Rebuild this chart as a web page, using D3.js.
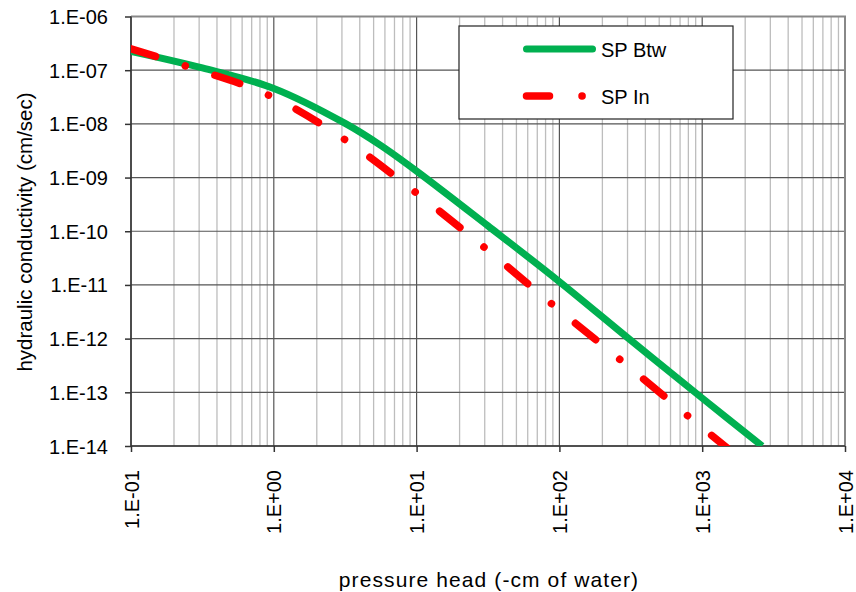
<!DOCTYPE html>
<html>
<head>
<meta charset="utf-8">
<script src="https://cdn.jsdelivr.net/npm/d3@7"></script>
<style>
  body { margin: 0; background: #fff; }
  text { font-family: Arial, "Liberation Sans", sans-serif; fill: #000; }
</style>
</head>
<body>
<div id="chart-area"></div>
<script>

// data
let xTicks = [0.1, 1, 10, 100, 1000, 10000]
let yTicks = [1e-6, 1e-7, 1e-8, 1e-9, 1e-10, 1e-11, 1e-12, 1e-13, 1e-14]

// SP Btw (green solid)
let btwHead = [0.1, 0.316, 1, 3.16, 5.6, 10, 31.6, 100, 316, 1000, 2630]
let btwK = [2.24e-7, 1.10e-7, 4.57e-8, 1.02e-8, 3.98e-9, 1.32e-9, 1.26e-10, 1.15e-11, 9.3e-13, 7.8e-14, 1.0e-14]

// SP In (red long dash dot)
let inHead = [0.1, 0.234, 0.912, 3.09, 9.77, 29.5, 87.1, 263, 794, 2000]
let inK = [2.51e-7, 1.23e-7, 3.47e-8, 5.25e-9, 5.37e-10, 5.13e-11, 4.57e-12, 4.17e-13, 3.63e-14, 4.9e-15]

// margin conventions
let margin = {top: 16.5, right: 11, bottom: 146, left: 131},
    width = 856 - margin.left - margin.right,
    height = 592 - margin.top - margin.bottom;

let svg = d3.select("#chart-area").append("svg")
    .attr("width", 856)
    .attr("height", 592)

let g = svg.append("g")
    .attr("transform", "translate(" + margin.left + "," + margin.top + ")");

let x = d3.scaleLog().domain([0.1, 10000]).range([0, width])
let y = d3.scaleLog().domain([1e-14, 1e-6]).range([height, 0])

let fmt = function (v) {
    let e = Math.round(Math.log10(v))
    let s = String(Math.abs(e)).padStart(2, "0")
    return "1.E" + (e < 0 ? "-" : "+") + s
}

let isMajor = v => Math.abs(Math.log10(v) - Math.round(Math.log10(v))) < 1e-9

// minor vertical grid
g.selectAll(".minor-x").data(x.ticks().filter(v => !isMajor(v)))
    .enter().append("line")
    .attr("class", "minor-x")
    .attr("x1", d => x(d)).attr("x2", d => x(d))
    .attr("y1", 0).attr("y2", height)
    .attr("stroke", "#bdbdbd")
    .attr("stroke-width", 1.3)

// major grid
g.selectAll(".major-x").data(xTicks)
    .enter().append("line")
    .attr("x1", d => x(d)).attr("x2", d => x(d))
    .attr("y1", 0).attr("y2", height)
    .attr("stroke", "#555")
    .attr("stroke-width", 1.2)

g.selectAll(".major-y").data(yTicks)
    .enter().append("line")
    .attr("x1", 0).attr("x2", width)
    .attr("y1", d => y(d)).attr("y2", d => y(d))
    .attr("stroke", "#555")
    .attr("stroke-width", 1.2)

// top / right border
g.append("path")
    .attr("d", "M0,0H" + width + "V" + height)
    .attr("fill", "none")
    .attr("stroke", "#888")
    .attr("stroke-width", 2)

// axes
let xAxis = g.append("g")
    .attr("transform", "translate(0," + height + ")")
    .call(d3.axisBottom(x).tickValues(xTicks).tickFormat(fmt).tickSize(6).tickPadding(0))

xAxis.selectAll("text")
    .attr("transform", "rotate(-90)")
    .attr("text-anchor", "end")
    .attr("dominant-baseline", "central")
    .attr("x", -24)
    .attr("y", 0)
    .attr("dy", null)

let yAxis = g.append("g")
    .call(d3.axisLeft(y).tickValues(yTicks).tickFormat(fmt).tickSize(6).tickPadding(17))

yAxis.selectAll("text").attr("dominant-baseline", "central").attr("dy", null)

svg.selectAll(".domain, .tick line").attr("stroke", "#333").attr("stroke-width", 1.5)
svg.selectAll(".tick text").style("font-size", "20px")
    .style("font-family", "Arial, 'Liberation Sans', sans-serif")
svg.selectAll(".domain").attr("d", function () {
    return d3.select(this.parentNode).attr("transform") ? "M0,0H" + width : "M0,0V" + height
})

// clip for the curves
svg.append("clipPath").attr("id", "plot-clip")
    .append("rect").attr("width", width).attr("height", height)

let line = (heads, ks) => d3.line()
    .x((d, i) => x(heads[i]))
    .y((d, i) => y(ks[i]))
    .curve(d3.curveCatmullRom.alpha(0.5))(heads)

let curves = g.append("g").attr("clip-path", "url(#plot-clip)")

curves.append("path")
    .attr("d", line(btwHead, btwK))
    .attr("fill", "none")
    .attr("stroke", "#00b050")
    .attr("stroke-width", 7)

curves.append("path")
    .attr("d", line(inHead, inK))
    .attr("fill", "none")
    .attr("stroke", "#ff0000")
    .attr("stroke-width", 7.5)
    .attr("stroke-linecap", "round")
    .attr("stroke-dasharray", "26,31,0.1,31")

// axis titles
svg.append("text")
    .attr("x", 489)
    .attr("y", 587)
    .attr("text-anchor", "middle")
    .style("font-size", "21px")
    .style("letter-spacing", "1.1px")
    .text("pressure head (-cm of water)")

svg.append("text")
    .attr("transform", "translate(24,232) rotate(-90)")
    .attr("text-anchor", "middle")
    .attr("dominant-baseline", "central")
    .style("font-size", "20.5px")
    .text("hydraulic conductivity (cm/sec)")

// legend
let legend = svg.append("g")

legend.append("rect")
    .attr("x", 459).attr("y", 26)
    .attr("width", 274).attr("height", 93)
    .attr("fill", "#fff")
    .attr("stroke", "#222")
    .attr("stroke-width", 1.2)

legend.append("line")
    .attr("x1", 526.5).attr("x2", 592.5)
    .attr("y1", 49).attr("y2", 49)
    .attr("stroke", "#00b050")
    .attr("stroke-width", 7)
    .attr("stroke-linecap", "round")

legend.append("line")
    .attr("x1", 526.5).attr("x2", 586)
    .attr("y1", 96).attr("y2", 96)
    .attr("stroke", "#ff0000")
    .attr("stroke-width", 7.5)
    .attr("stroke-linecap", "round")
    .attr("stroke-dasharray", "23,32.5,0.1,40")

legend.selectAll(".legend-label").data(["SP Btw", "SP In"])
    .enter().append("text")
    .attr("x", 601)
    .attr("y", (d, i) => i === 0 ? 50 : 97)
    .attr("dominant-baseline", "central")
    .style("font-size", "20px")
    .text(d => d)

</script>
</body>
</html>
